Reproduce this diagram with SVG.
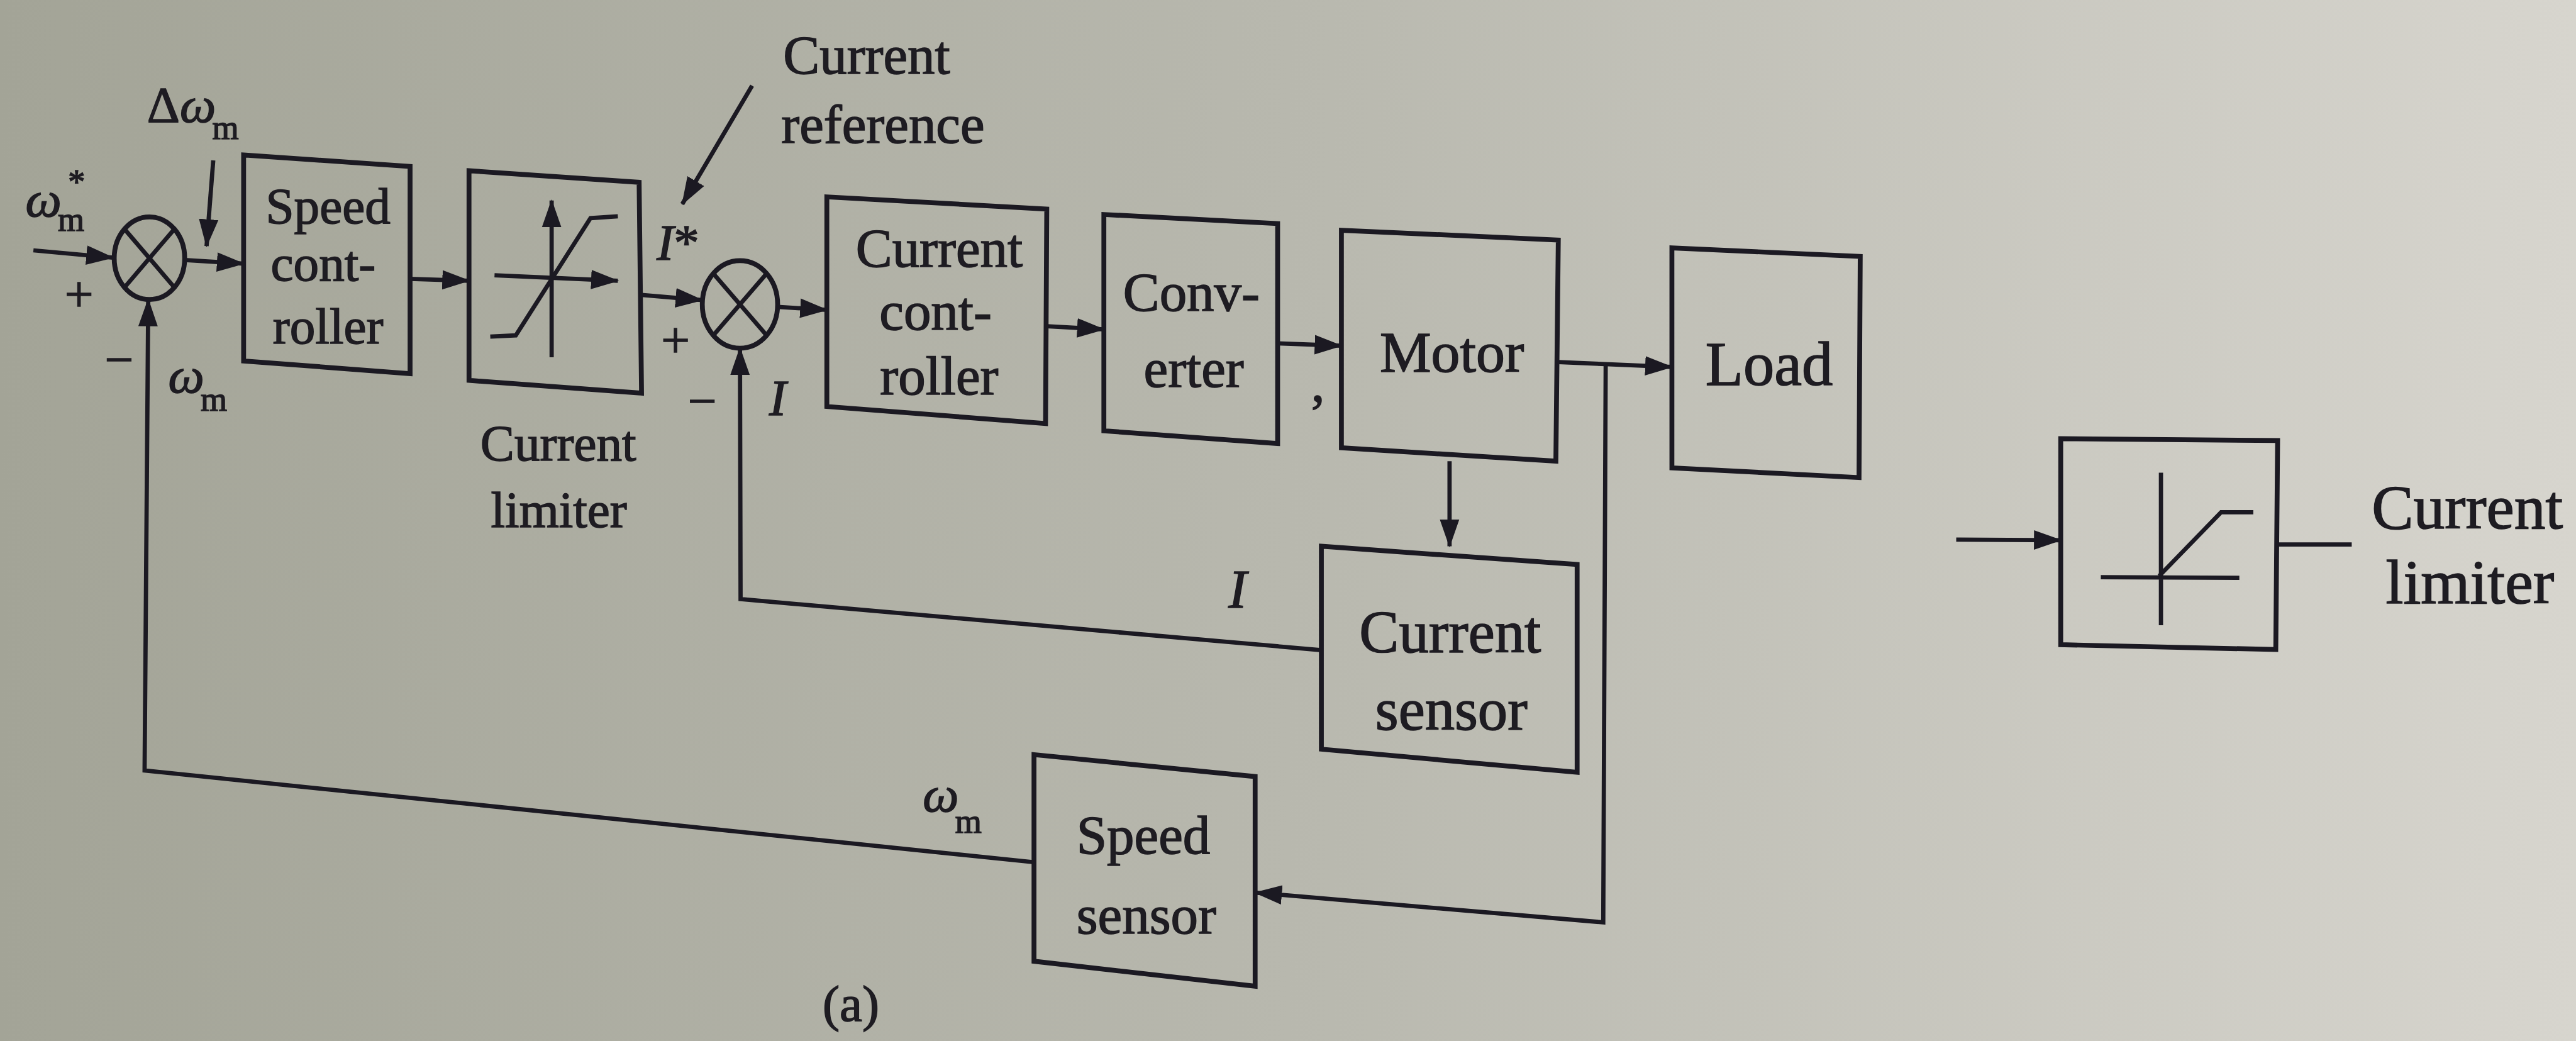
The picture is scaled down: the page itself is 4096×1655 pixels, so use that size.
<svg xmlns="http://www.w3.org/2000/svg" width="4096" height="1655" viewBox="0 0 4096 1655">
<defs>
<linearGradient id="bg" x1="0" y1="0" x2="1" y2="0">
<stop offset="0" stop-color="#a3a497"/>
<stop offset="0.5" stop-color="#b8b8ae"/>
<stop offset="1" stop-color="#d7d5ce"/>
</linearGradient>
<marker id="ah" markerUnits="userSpaceOnUse" markerWidth="46" markerHeight="34" refX="44" refY="17" orient="auto"><path d="M0,1 L46,17 L0,33 z" fill="#1b1922"/></marker>
<style>
.box{fill:none;stroke:#1b1922;stroke-width:8;stroke-linejoin:miter}
.ln{fill:none;stroke:#1b1922;stroke-width:7}
.arr{marker-end:url(#ah)}
text{font-family:"Liberation Serif","Times New Roman",serif;fill:#1e1c22;stroke:#1e1c22;stroke-width:1.6}
.it{font-style:italic}
.c{text-anchor:middle}
.s84{font-size:84px}
.s90{font-size:90px}
.s98{font-size:98px}
.sub{font-size:56px;font-style:normal}
</style>
</defs>
<rect x="0" y="0" width="4096" height="1655" fill="url(#bg)"/>
<g id="diagram" transform="scale(0.966)">
<g id="connectors">
<path class="ln arr" d="M55,412 L186,424"/>
<path class="ln arr" d="M351,264 L340,405"/>
<path class="ln arr" d="M304,428 L401,434"/>
<path class="ln arr" d="M675,459 L772,462"/>
<path class="ln arr" d="M1053,485 L1156,494"/>
<path class="ln arr" d="M1280,505 L1361,510"/>
<path class="ln arr" d="M1723,537 L1817,542"/>
<path class="ln arr" d="M2103,565 L2208,569"/>
<path class="ln arr" d="M2565,596 L2752,604"/>
<path class="ln arr" d="M2386,759 L2386,899"/>
<path class="ln arr" d="M2175,1070 L1219,986 L1218,573"/>
<path class="ln arr" d="M2643,600 L2639,1518 L2066,1469"/>
<path class="ln arr" d="M1702,1419 L238,1268 L244,493"/>
<path class="ln arr" d="M1238,141 L1123,336"/>
<path class="ln arr" d="M3220,888 L3392,889"/>
<path class="ln" d="M3749,896 L3871,896"/>
</g>
<g id="input-labels">
<text class="s84" x="42" y="356"><tspan class="it">ω</tspan><tspan class="sub" dx="-6" dy="24">m</tspan></text>
<text class="sub" x="112" y="318">*</text>
<text class="s84" x="242" y="201">Δ<tspan class="it">ω</tspan><tspan class="sub" dx="-6" dy="28">m</tspan></text>
</g>
<g id="sum1">
<ellipse class="box" cx="246" cy="425" rx="58" ry="68"/>
<path class="ln" d="M205,377 L287,473 M287,377 L205,473"/>
<text class="s84 c" x="130" y="512">+</text>
<text class="s84 c" x="196" y="620">−</text>
<text class="s84" x="277" y="646"><tspan class="it">ω</tspan><tspan class="sub" dx="-6" dy="30">m</tspan></text>
</g>
<g id="speed-controller">
<path class="box" d="M401,255 L675,274 L675,615 L401,594 Z"/>
<text class="s84 c" x="540" y="367">Speed</text>
<text class="s84 c" x="532" y="462">cont-</text>
<text class="s84 c" x="540" y="565">roller</text>
</g>
<g id="current-limiter">
<path class="box" d="M772,281 L1052,300 L1056,647 L772,626 Z"/>
<path class="ln arr" d="M908,588 L908,330"/>
<path class="ln arr" d="M814,453 L1017,462"/>
<path class="ln" d="M807,554 L849,552 L972,359 L1017,356"/>
<text class="s84 c" x="919" y="758">Current</text>
<text class="s84 c" x="920" y="867">limiter</text>
</g>
<g id="current-reference-label">
<text class="s90" x="1289" y="121">Current</text>
<text class="s90" x="1286" y="235">reference</text>
<text class="s84" x="1081" y="428"><tspan class="it">I</tspan>*</text>
</g>
<g id="sum2">
<ellipse class="box" cx="1218" cy="501" rx="62" ry="72"/>
<path class="ln" d="M1174,450 L1262,552 M1262,450 L1174,552"/>
<text class="s84 c" x="1112" y="588">+</text>
<text class="s84 c" x="1156" y="688">−</text>
<text class="s84 it" x="1266" y="683">I</text>
</g>
<g id="current-controller">
<path class="box" d="M1361,324 L1723,344 L1721,697 L1361,669 Z"/>
<text class="s90 c" x="1546" y="439">Current</text>
<text class="s90 c" x="1540" y="542">cont-</text>
<text class="s90 c" x="1546" y="649">roller</text>
</g>
<g id="converter">
<path class="box" d="M1817,353 L2103,368 L2103,730 L1817,709 Z"/>
<text class="s90 c" x="1961" y="511">Conv-</text>
<text class="s90 c" x="1965" y="637">erter</text>
</g>
<text class="s90" x="2158" y="660">,</text>
<g id="motor">
<path class="box" d="M2208,379 L2565,395 L2561,759 L2208,737 Z"/>
<text class="c" style="font-size:95px" x="2390" y="612">Motor</text>
</g>
<g id="load">
<path class="box" d="M2752,408 L3062,422 L3060,786 L2752,770 Z"/>
<text class="c" style="font-size:102px" x="2912" y="634">Load</text>
</g>
<g id="current-sensor">
<path class="box" d="M2175,899 L2596,929 L2596,1271 L2175,1233 Z"/>
<text class="s98 c" x="2387" y="1073">Current</text>
<text class="s98 c" x="2389" y="1201">sensor</text>
<text class="s90 it" x="2022" y="1000">I</text>
</g>
<g id="speed-sensor">
<path class="box" d="M1702,1242 L2066,1278 L2066,1623 L1702,1582 Z"/>
<text class="s90 c" x="1882" y="1405">Speed</text>
<text class="s90 c" x="1887" y="1536">sensor</text>
<text class="s84" x="1519" y="1335"><tspan class="it">ω</tspan><tspan class="sub" dx="-6" dy="36">m</tspan></text>
</g>
<text class="s84" x="1354" y="1680">(a)</text>
<g id="limiter-detail">
<path class="box" d="M3392,722 L3749,725 L3746,1069 L3392,1061 Z"/>
<path class="ln" d="M3557,778 L3557,1029 M3458,950 L3686,951"/>
<path class="ln" d="M3554,948 L3656,843 L3709,843"/>
<text style="font-size:103px" x="3904" y="870">Current</text>
<text style="font-size:104px" x="3927" y="993">limiter</text>
</g>
</g>
</svg>
